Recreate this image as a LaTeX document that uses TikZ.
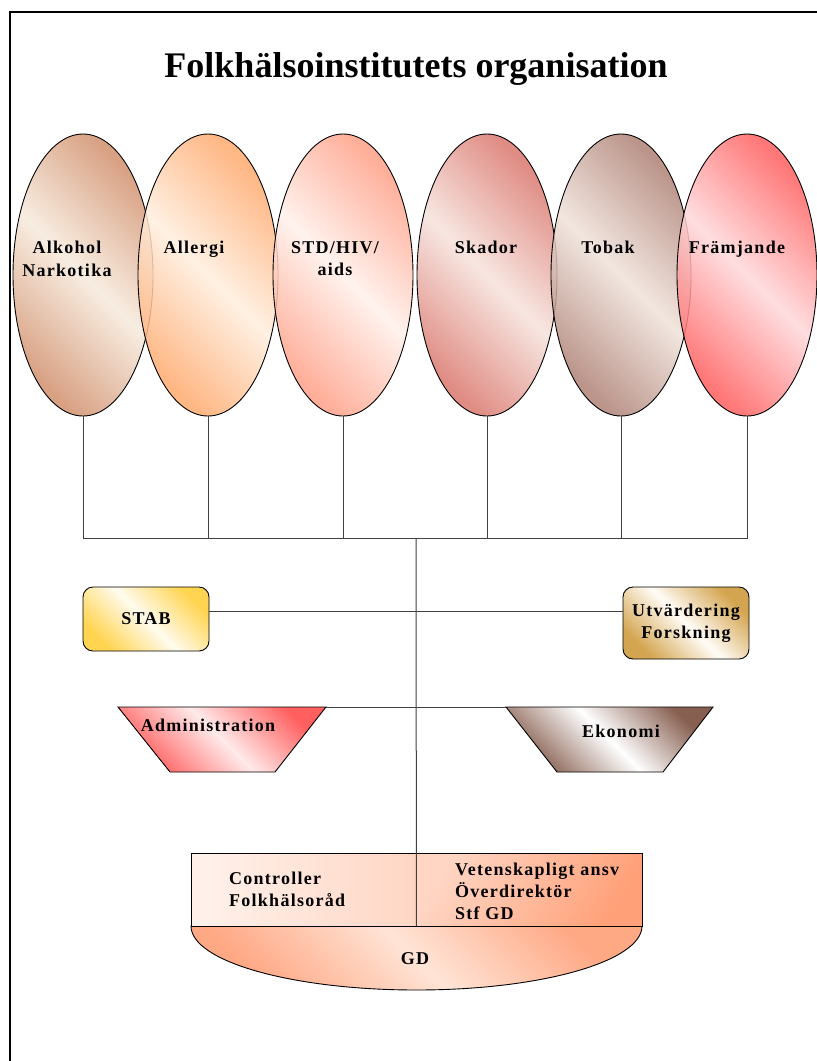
\documentclass[tikz,border=0pt]{standalone}
\usepackage{fontspec}
\setmainfont{Liberation Serif}
\newfontfamily\unitfont{Liberation Serif}[LetterSpace=7]
\usetikzlibrary{shapes.geometric,positioning}

\definecolor{alkD}{RGB}{210,145,110}
\definecolor{alkL}{RGB}{246,234,220}
\definecolor{allD}{RGB}{255,170,110}
\definecolor{allL}{RGB}{255,238,222}
\definecolor{stdD}{RGB}{255,160,135}
\definecolor{stdL}{RGB}{255,240,234}
\definecolor{skaD}{RGB}{218,120,110}
\definecolor{skaL}{RGB}{246,226,220}
\definecolor{tobD}{RGB}{175,130,118}
\definecolor{tobL}{RGB}{239,226,218}
\definecolor{fraD}{RGB}{255,95,95}
\definecolor{fraL}{RGB}{255,216,218}
\definecolor{stabD}{RGB}{255,212,80}
\definecolor{stabL}{RGB}{255,251,238}
\definecolor{utvD}{RGB}{212,165,80}
\definecolor{utvL}{RGB}{255,252,246}
\definecolor{admD}{RGB}{255,95,95}
\definecolor{admL}{RGB}{255,234,234}
\definecolor{ekoD}{RGB}{135,95,80}
\definecolor{ekoL}{RGB}{255,255,255}
\definecolor{gdA}{RGB}{255,242,236}
\definecolor{gdB}{RGB}{255,214,196}
\definecolor{gdC}{RGB}{255,160,120}
\definecolor{gdD}{RGB}{255,168,132}
\definecolor{gdL}{RGB}{255,228,214}

\tikzset{
  tint/.style 2 args={left color=#1, right color=#1, middle color=#2, shading angle=135},
  unit/.style={ellipse, draw, line width=0.9pt, minimum width=140pt, minimum height=282pt, inner sep=0pt, fill opacity=0.85},
  unittext/.style={font=\unitfont\bfseries\fontsize{18}{22.5}\selectfont, align=center, anchor=north, inner sep=0pt},
  boxtext/.style={font=\unitfont\bfseries\fontsize{18}{22}\selectfont, inner sep=0pt},
  staff/.style={draw, rounded corners=10pt, line width=0.9pt, align=center, inner sep=0pt},
  part/.style={draw, line width=0.9pt, inner sep=0pt, minimum height=73pt},
  wire/.style={line width=1pt, black!75},
}

\begin{document}
\begin{tikzpicture}[x=1pt, y=-1pt]
        \useasboundingbox (0,0) rectangle (817,1061);

        % frame
        \draw[line width=1.6pt] (817,12) -- (10,12) -- (10,1061);

        \node[font=\bfseries\fontsize{36}{40}\selectfont, anchor=base] (title) at (416,77) {Folkhälsoinstitutets organisation};

        % units
        \node[unit, tint={alkD}{alkL}] (alk) at (83,275) {};
        \node[unit, tint={allD}{allL}] (all) at (208,275) {};
        \node[unit, tint={stdD}{stdL}] (std) at (343,275) {};
        \node[unit, tint={skaD}{skaL}] (ska) at (487,275) {};
        \node[unit, tint={tobD}{tobL}] (tob) at (621,275) {};
        \node[unit, tint={fraD}{fraL}] (fra) at (747,275) {};

        \node[unittext] (alkt) at (67,241) {Alkohol\\Narkotika};
        \node[unittext] (allt) at (194,241) {Allergi};
        \node[unittext] (stdt) at (335,241) {STD/HIV/\\aids};
        \node[unittext] (skat) at (486,241) {Skador};
        \node[unittext] (tobt) at (608,241) {Tobak};
        \node[unittext] (frat) at (737,241) {Främjande};

        \coordinate (bus) at (416,538);
        \foreach \u in {alk,all,std,ska,tob,fra}
            \draw[wire] (\u.south) |- (bus);

        % staff
        \node[staff, tint={stabD}{stabL}, minimum width=126pt, minimum height=64pt, boxtext] (stab) at (146,619) {STAB};
        \node[staff, tint={utvD}{utvL}, minimum width=126pt, minimum height=72pt, boxtext, align=center] (utv) at (686,623) {Utvärdering\\Forskning};
        \draw[wire] ([yshift=8pt]stab.east) -- ([yshift=12pt]utv.west);

        % departments
        \coordinate (adm-nw) at (118,707);
        \coordinate (adm-ne) at (326,707);
        \coordinate (eko-nw) at (506,707);
        \coordinate (eko-ne) at (713,707);
        \draw[line width=0.9pt, tint={admD}{admL}] (adm-nw) -- (adm-ne) -- (275,772) -- (170,772) -- cycle;
        \draw[line width=0.9pt, tint={ekoD}{ekoL}] (eko-nw) -- (eko-ne) -- (663,772) -- (557,772) -- cycle;
        \node[boxtext, anchor=base] (admt) at (208,731) {Administration};
        \node[boxtext, anchor=base] (ekot) at (621,737) {Ekonomi};
        \draw[wire] (adm-ne) -- (eko-nw);

        % management
        \draw[line width=0.9pt, tint={gdD}{gdL}] (191,926) arc[start angle=180, end angle=0, x radius=225.5, y radius=64] -- cycle;
        \node[part, minimum width=225pt, left color=gdA, right color=gdB] (ctrl) at (303.5,889.5) {};
        \node[part, minimum width=226pt, left color=gdB, right color=gdC, shading angle=60] (vet) at (529,889.5) {};
        \node[boxtext, anchor=north west, align=left] (ctrlt) at (229,872) {Controller\\Folkhälsoråd};
        \node[boxtext, anchor=north west, align=left] (vett) at (455,863) {Vetenskapligt ansv\\Överdirektör\\Stf GD};
        \node[boxtext] (gd) at (415,959) {GD};
        \draw[wire] (bus) -- (ctrl.south east);
\end{tikzpicture}
\end{document}
